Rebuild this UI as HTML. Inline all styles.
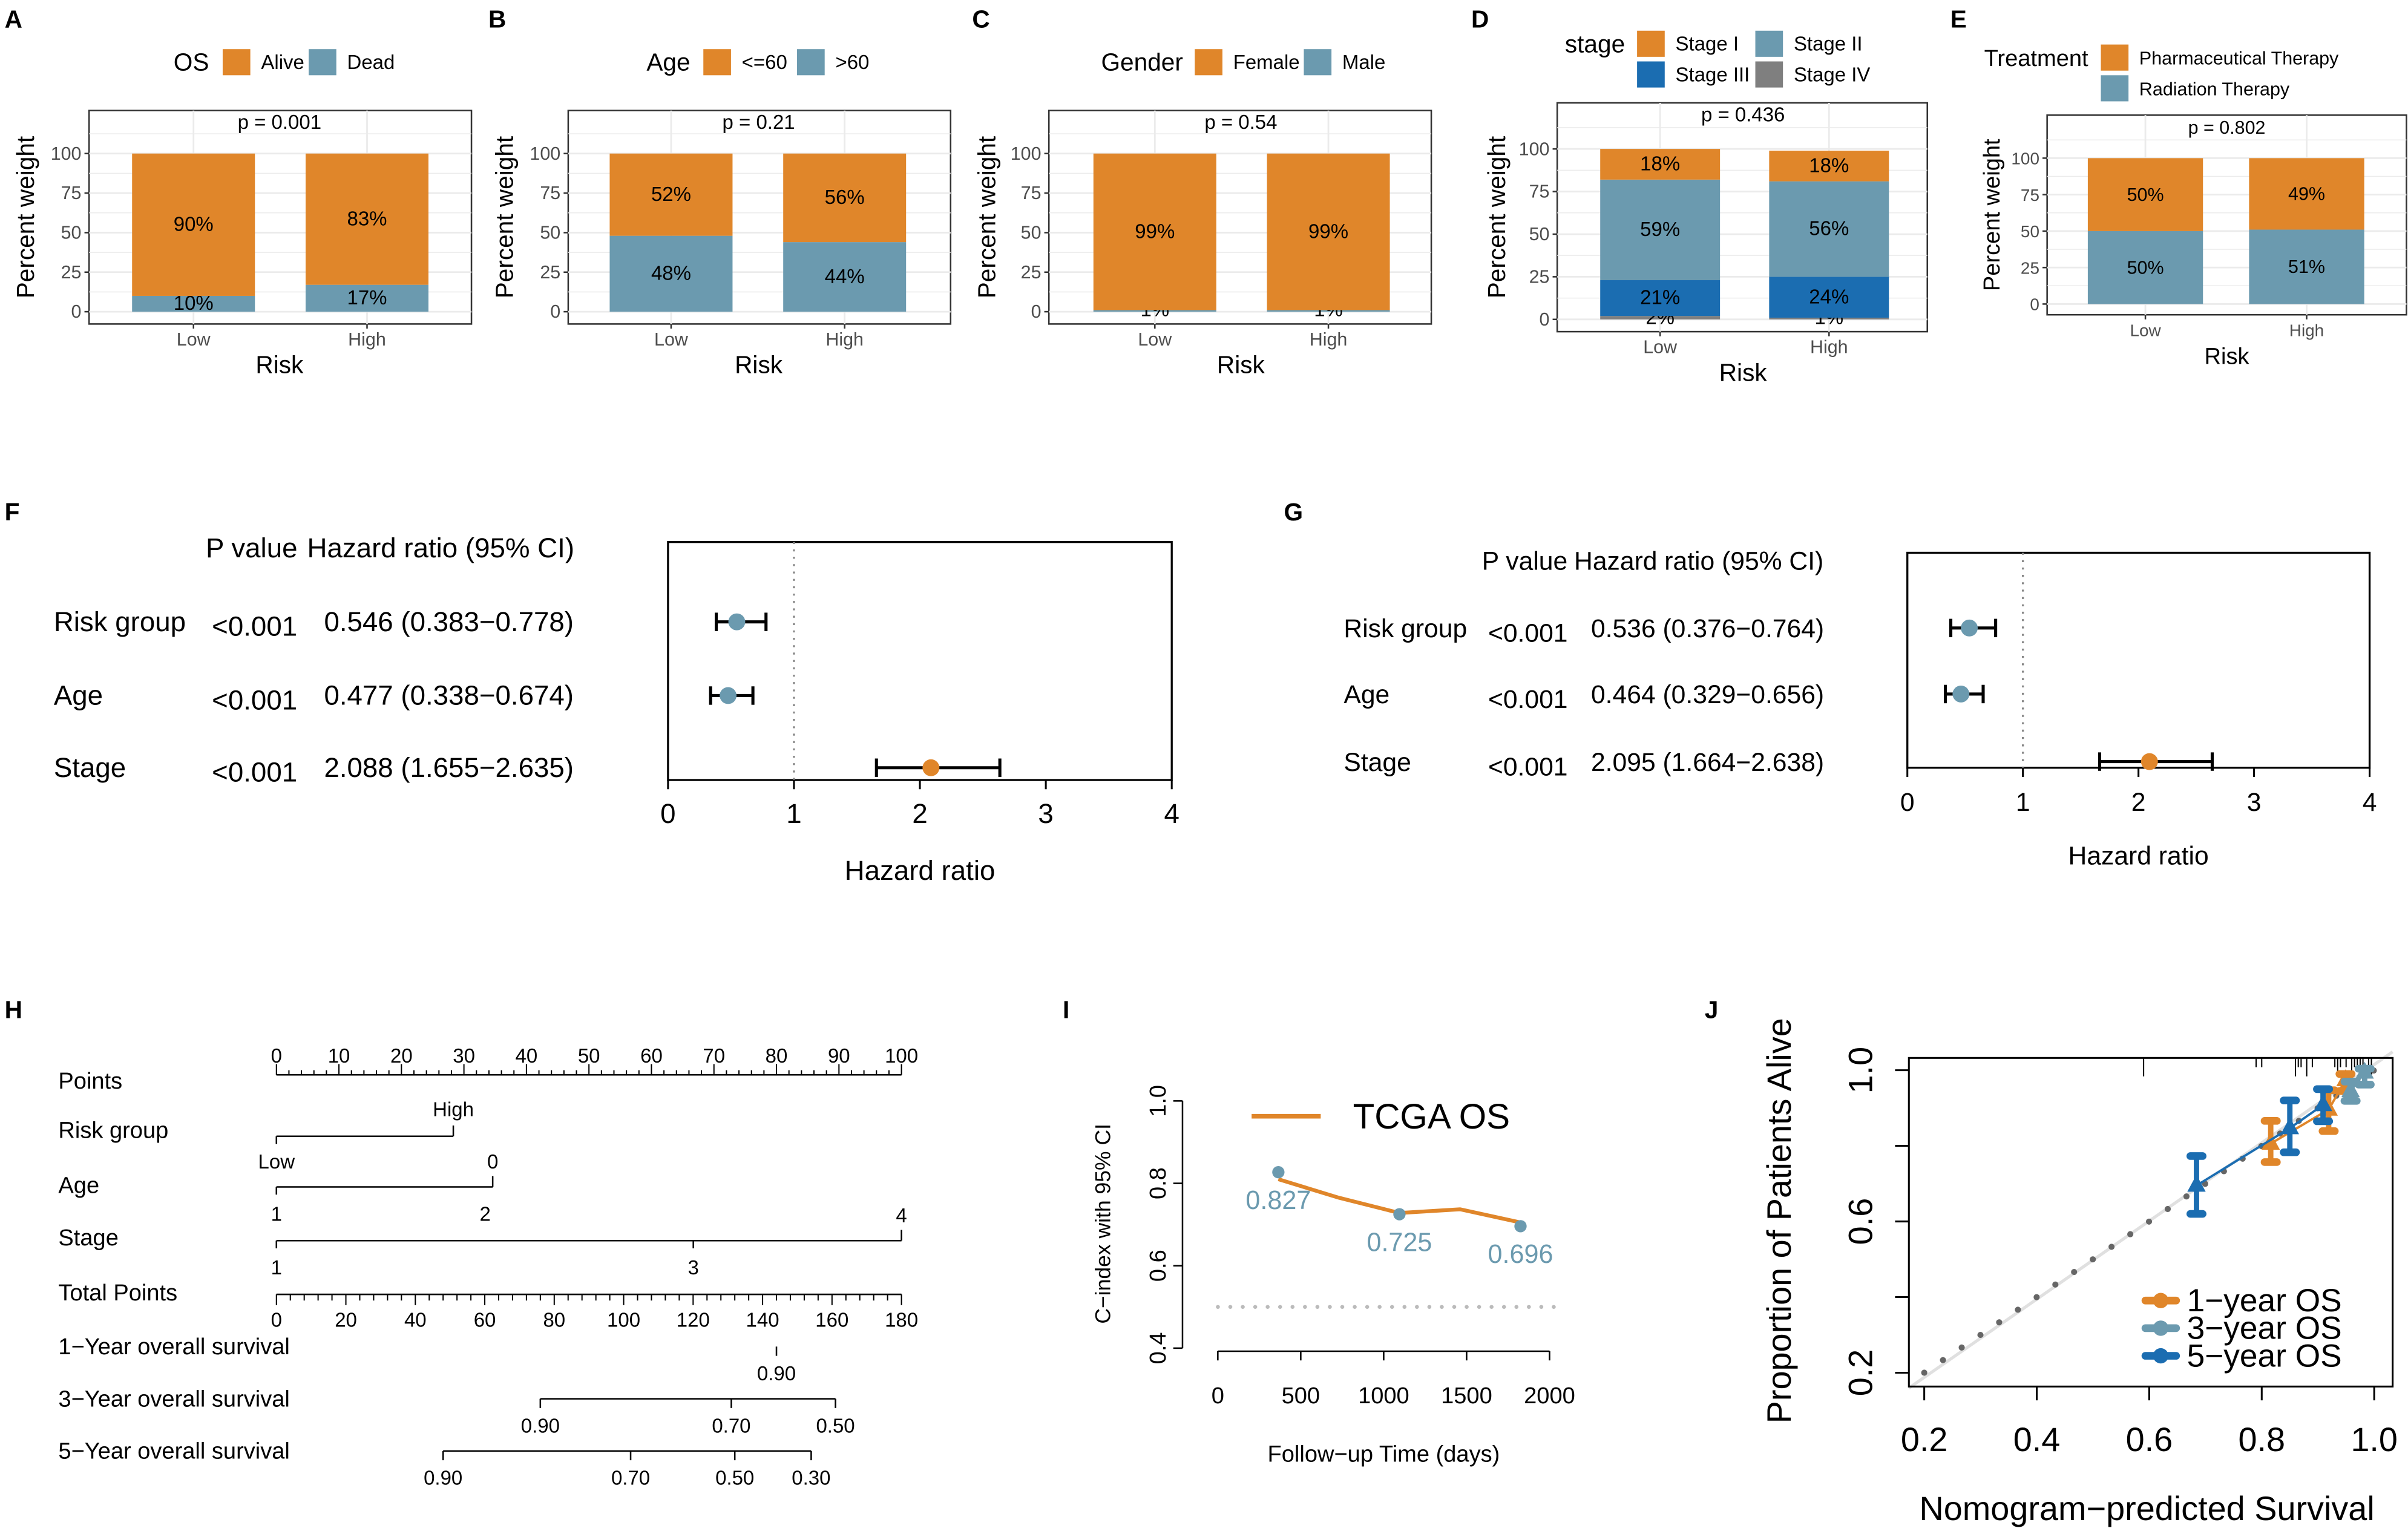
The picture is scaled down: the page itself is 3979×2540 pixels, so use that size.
<!DOCTYPE html>
<html><head><meta charset="utf-8"><style>
html,body{margin:0;padding:0;background:#fff}
svg{display:block;font-family:"Liberation Sans",Arial,sans-serif}
</style></head><body>
<svg id="fig" width="3979" height="2540" viewBox="0 0 1568 1001" preserveAspectRatio="none" xmlns="http://www.w3.org/2000/svg">
<rect x="0" y="0" width="1568" height="1001" fill="#fff"/>
</svg>
<script>
// ---- Data ----
const riskCats = ["Low","High"];
const osAlive = [90,83];
const osDead = [10,17];
const ageLe60 = [52,56];
const ageGt60 = [48,44];
const genderFemale = [99,99];
const genderMale = [1,1];
const stageI = [18,18];
const stageII = [59,56];
const stageIII = [21,24];
const stageIV = [2,1];
const treatPharm = [50,49];
const treatRad = [50,51];
const pctTicks = [0,25,50,75,100];

const forestVars = ["Risk group","Age","Stage"];
const forestPF = ["<0.001","<0.001","<0.001"];
const forestHRF = [0.546,0.477,2.088];
const forestLoF = [0.383,0.338,1.655];
const forestHiF = [0.778,0.674,2.635];
const forestPG = ["<0.001","<0.001","<0.001"];
const forestHRG = [0.536,0.464,2.095];
const forestLoG = [0.376,0.329,1.664];
const forestHiG = [0.764,0.656,2.638];
const hrTicks = [0,1,2,3,4];

const pointsTicks = [0,10,20,30,40,50,60,70,80,90,100];
const totalTicks = [0,20,40,60,80,100,120,140,160,180];
const riskPts = [0,28.3];
const agePts = [34.6,0];
const stagePts = [0,66.7,100];
const surv1Total = [144];
const surv1Lab = ["0.90"];
const surv3Total = [76,131,161];
const surv3Lab = ["0.90","0.70","0.50"];
const surv5Total = [48,102,132,154];
const surv5Lab = ["0.90","0.70","0.50","0.30"];

const cTimes = [365,730,1095,1460,1825];
const cVals = [0.81,0.765,0.728,0.737,0.705];
const cPtTimes = [365,1095,1825];
const cPtVals = [0.827,0.725,0.696];
const cxTicks = [0,500,1000,1500,2000];
const cyTicks = [0.4,0.6,0.8,1.0];

const calTicks = [0.2,0.4,0.6,0.8,1.0];
const cal1x = [0.816,0.919,0.949];
const cal1y = [0.806,0.896,0.974];
const cal1lo = [0.757,0.839,0.945];
const cal1hi = [0.866,0.947,0.99];
const cal3x = [0.958,0.983];
const cal3y = [0.945,0.994];
const cal3lo = [0.919,0.962];
const cal3hi = [0.97,1.004];
const cal5x = [0.684,0.850,0.909];
const cal5y = [0.695,0.847,0.908];
const cal5lo = [0.62,0.783,0.865];
const cal5hi = [0.773,0.92,0.95];
const rugVals = [0.59,0.79,0.80,0.86,0.865,0.87,0.88,0.89,0.93,0.935,0.94,0.95,0.96,0.965,0.97,0.975,0.98,0.99,0.995];

const OR="#E0862A", BL="#6B9AAF", DB="#1B6DB1", GR="#7F7F7F";
const NS="http://www.w3.org/2000/svg";
const svg=document.getElementById('fig');
function mk(tag,attrs,parent){const e=document.createElementNS(NS,tag);for(const k in attrs)e.setAttribute(k,attrs[k]);(parent||svg).appendChild(e);return e;}
function tx(x,y,s,size,anchor,fill,parent,extra){const e=mk('text',Object.assign({x:x,y:y,'font-size':size,'text-anchor':anchor||'start',fill:fill||'#000'},extra||{}),parent);e.textContent=s;return e;}
function grp(name){const g=mk('g',{});return g;}

const letters=[["A",3,18],["B",318,18],["C",633,18],["D",958,18],["E",1270,18],["F",3,339],["G",836,339],["H",3,663],["I",692,663],["J",1110,663]];
letters.forEach(l=>{const t=tx(l[1],l[2],l[0],16,'start','#000',null,{'font-weight':'bold'});});

function barPanel(cfg){
  const g=grp(cfg.name);
  const yv=v=>cfg.y0+(cfg.y100-cfg.y0)*v/100;
  const f=mk('rect',{x:cfg.bx0,y:cfg.by0,width:cfg.bx1-cfg.bx0,height:cfg.by1-cfg.by0,fill:'#fff',stroke:'#333','stroke-width':1},g);
  
  for(let v=0;v<=100;v+=12.5){const y=yv(v);mk('line',{x1:cfg.bx0,x2:cfg.bx1,y1:y,y2:y,stroke:'#ebebeb','stroke-width':v%25===0?1.1:0.6},g);}
  const ytop=yv(112.5);mk('line',{x1:cfg.bx0,x2:cfg.bx1,y1:ytop,y2:ytop,stroke:'#ebebeb','stroke-width':0.6},g);
  cfg.cx.forEach(x=>mk('line',{x1:x,x2:x,y1:cfg.by0,y2:cfg.by1,stroke:'#ebebeb','stroke-width':1.1},g));
  cfg.cx.forEach((cx,i)=>{
    let acc=0;
    cfg.series.forEach((s,k)=>{
      const v=s.vals[i];
      const r=mk('rect',{x:cx-cfg.bw/2,y:yv(acc+v),width:cfg.bw,height:Math.max(0,yv(acc)-yv(acc+v)),fill:s.color},g);
      
      
      let ly=(yv(acc)+yv(acc+v))/2+4;
      if(v<5) ly=yv(acc)+ (k===0?3:-1);
      const t=tx(cx,ly,v+'%',cfg.fs,'middle','#000',g);
      
      acc+=v;
    });
  });
  pctTicks.forEach(v=>{const y=yv(v);mk('line',{x1:cfg.bx0-3,x2:cfg.bx0,y1:y,y2:y,stroke:'#333'},g);
    const t=tx(cfg.bx0-5,y+4,String(v),cfg.fs-1,'end','#4d4d4d',g);});
  cfg.cx.forEach((x,i)=>{mk('line',{x1:x,x2:x,y1:cfg.by1,y2:cfg.by1+3,stroke:'#333'},g);
    const t=tx(x,cfg.by1+14,riskCats[i],cfg.fs-1,'middle','#4d4d4d',g);});
  let t=tx(cfg.titleX,cfg.by1+32,'Risk',cfg.fs+3,'middle','#000',g);
  t=tx(0,0,'Percent weight',cfg.fs+3,'middle','#000',g,{transform:`translate(${cfg.ylx},${(cfg.by0+cfg.by1)/2}) rotate(-90)`});
  t=tx(cfg.pX,cfg.by0+12,cfg.p,cfg.fs,'middle','#000',g);
  const lg=mk('g',{},g);
  t=tx(cfg.leg.tx,cfg.leg.ty,cfg.leg.title,cfg.fs+3,'start','#000',lg);
  cfg.leg.items.forEach(it=>{
    const r=mk('rect',{x:it[0],y:it[1],width:18,height:17,fill:it[2]},lg);
    const tt=tx(it[0]+25,it[1]+13,it[3],cfg.fs,'start','#000',lg);
  });
}
barPanel({name:'panel-a-os',bx0:58,bx1:307,by0:72,by1:211,y0:203,y100:100,cx:[126,239],bw:80,fs:13,titleX:182,ylx:22,p:'p = 0.001',pX:182,
  series:[{key:'dead',vals:osDead,color:BL},{key:'alive',vals:osAlive,color:OR}],
  leg:{tx:113,ty:46,title:'OS',items:[[145,32,OR,'Alive'],[201,32,BL,'Dead']]}});
barPanel({name:'panel-b-age',bx0:370,bx1:619,by0:72,by1:211,y0:203,y100:100,cx:[437,550],bw:80,fs:13,titleX:494,ylx:334,p:'p = 0.21',pX:494,
  series:[{key:'gt60',vals:ageGt60,color:BL},{key:'le60',vals:ageLe60,color:OR}],
  leg:{tx:421,ty:46,title:'Age',items:[[458,32,OR,'<=60'],[519,32,BL,'>60']]}});
barPanel({name:'panel-c-gender',bx0:683,bx1:932,by0:72,by1:211,y0:203,y100:100,cx:[752,865],bw:80,fs:13,titleX:808,ylx:648,p:'p = 0.54',pX:808,
  series:[{key:'male',vals:genderMale,color:BL},{key:'female',vals:genderFemale,color:OR}],
  leg:{tx:717,ty:46,title:'Gender',items:[[778,32,OR,'Female'],[849,32,BL,'Male']]}});
barPanel({name:'panel-d-stage',bx0:1014,bx1:1255,by0:67,by1:216,y0:208,y100:97,cx:[1081,1191],bw:78,fs:13,titleX:1135,ylx:980,p:'p = 0.436',pX:1135,
  series:[{key:'stage-iv',vals:stageIV,color:GR},{key:'stage-iii',vals:stageIII,color:DB},{key:'stage-ii',vals:stageII,color:BL},{key:'stage-i',vals:stageI,color:OR}],
  leg:{tx:1019,ty:34,title:'stage',items:[[1066,20,OR,'Stage I'],[1143,20,BL,'Stage II'],[1066,40,DB,'Stage III'],[1143,40,GR,'Stage IV']]}});
barPanel({name:'panel-e-treatment',bx0:1333,bx1:1567,by0:75,by1:205,y0:198,y100:103,cx:[1397,1502],bw:75,fs:12,titleX:1450,ylx:1302,p:'p = 0.802',pX:1450,
  series:[{key:'radiation',vals:treatRad,color:BL},{key:'pharmaceutical',vals:treatPharm,color:OR}],
  leg:{tx:1292,ty:43,title:'Treatment',items:[[1368,29,OR,'Pharmaceutical Therapy'],[1368,49,BL,'Radiation Therapy']]}});

function forest(cfg){
  const g=grp(cfg.name);
  const xs=v=>cfg.x0+(cfg.x4-cfg.x0)*v/4;
  let t=tx(cfg.pX-4,cfg.headY,'P value',cfg.fs,'start','#000',g);
  t=tx(cfg.hrX-11,cfg.headY,'Hazard ratio (95% CI)',cfg.fs,'start','#000',g);
  const f=mk('rect',{x:cfg.x0,y:cfg.by0,width:cfg.x4-cfg.x0,height:cfg.by1-cfg.by0,fill:'none',stroke:'#000','stroke-width':1.3},g);
  
  mk('line',{x1:xs(1),x2:xs(1),y1:cfg.by0,y2:cfg.by1,stroke:'#888','stroke-width':1.3,'stroke-dasharray':'1.3 3.5'},g);
  forestVars.forEach((nm,i)=>{
    const y=cfg.rows[i];
    let a=tx(cfg.labX,y+6,nm,cfg.fs,'start','#000',g);
    a=tx(cfg.pX,y+9,cfg.p[i],cfg.fs,'start','#000',g);
    a=tx(cfg.hrX,y+6,cfg.hr[i].toFixed(3)+' ('+cfg.lo[i].toFixed(3)+'\u2212'+cfg.hi[i].toFixed(3)+')',cfg.fs,'start','#000',g);
    const c=cfg.hr[i]>1?OR:BL;
    const eb=mk('g',{},g);
    mk('line',{x1:xs(cfg.lo[i]),x2:xs(cfg.hi[i]),y1:y,y2:y,stroke:'#000','stroke-width':2},eb);
    mk('line',{x1:xs(cfg.lo[i]),x2:xs(cfg.lo[i]),y1:y-6,y2:y+6,stroke:'#000','stroke-width':2},eb);
    mk('line',{x1:xs(cfg.hi[i]),x2:xs(cfg.hi[i]),y1:y-6,y2:y+6,stroke:'#000','stroke-width':2},eb);
    mk('circle',{cx:xs(cfg.hr[i]),cy:y,r:5.5,fill:c},eb);
  });
  hrTicks.forEach(v=>{mk('line',{x1:xs(v),x2:xs(v),y1:cfg.by1,y2:cfg.by1+6,stroke:'#000','stroke-width':1.2},g);
    const a=tx(xs(v),cfg.by1+28,String(v),cfg.fs,'middle','#000',g);});
  t=tx((cfg.x0+cfg.x4)/2,cfg.titleY,'Hazard ratio',cfg.fs,'middle','#000',g);
}
forest({name:'panel-f-forest',x0:435,x4:763,by0:353,by1:508,rows:[405,453,500],labX:35,pX:138,hrX:211,headY:363,titleY:573,fs:18,p:forestPF,hr:forestHRF,lo:forestLoF,hi:forestHiF});
forest({name:'panel-g-forest',x0:1242,x4:1543,by0:360,by1:500,rows:[409,452,496],labX:875,pX:969,hrX:1036,headY:371,titleY:563,fs:16.8,p:forestPG,hr:forestHRG,lo:forestLoG,hi:forestHiG});

(function(){
  const g=grp('panel-h-nomogram');
  const px=v=>180+(587-180)*v/100;
  const tpx=v=>180+(587-180)*v/180;
  const fs=15;
  const rows=[['Points',709],['Risk group',741],['Age',777],['Stage',811],['Total Points',847],['1\u2212Year overall survival',882],['3\u2212Year overall survival',916],['5\u2212Year overall survival',950]];
  rows.forEach(r=>{const a=tx(38,r[1],r[0],fs,'start','#000',g);});
  mk('line',{x1:px(0),x2:px(100),y1:700,y2:700,stroke:'#000'},g);
  for(let v=0;v<=100;v+=2){mk('line',{x1:px(v),x2:px(v),y1:700,y2:v%10===0?693:697,stroke:'#000','stroke-width':0.8},g);}
  pointsTicks.forEach(v=>{const a=tx(px(v),692,String(v),13,'middle','#000',g);});
  mk('line',{x1:px(riskPts[0]),x2:px(riskPts[1]),y1:740,y2:740,stroke:'#000'},g);
  mk('line',{x1:px(riskPts[1]),x2:px(riskPts[1]),y1:733,y2:740,stroke:'#000'},g);
  mk('line',{x1:px(riskPts[0]),x2:px(riskPts[0]),y1:740,y2:745,stroke:'#000'},g);
  tx(px(riskPts[1]),727,'High',13,'middle','#000',g);tx(px(riskPts[0]),761,'Low',13,'middle','#000',g);
  mk('line',{x1:px(0),x2:px(agePts[0]),y1:773,y2:773,stroke:'#000'},g);
  mk('line',{x1:px(agePts[0]),x2:px(agePts[0]),y1:766,y2:773,stroke:'#000'},g);
  mk('line',{x1:px(0),x2:px(0),y1:773,y2:778,stroke:'#000'},g);
  tx(px(agePts[0]),761,'0',13,'middle','#000',g);tx(px(0),795,'1',13,'middle','#000',g);tx(px(33.4),795,'2',13,'middle','#000',g);
  mk('line',{x1:px(0),x2:px(100),y1:808,y2:808,stroke:'#000'},g);
  mk('line',{x1:px(100),x2:px(100),y1:801,y2:808,stroke:'#000'},g);
  mk('line',{x1:px(0),x2:px(0),y1:808,y2:813,stroke:'#000'},g);
  mk('line',{x1:px(stagePts[1]),x2:px(stagePts[1]),y1:808,y2:813,stroke:'#000'},g);
  tx(px(100),796,'4',13,'middle','#000',g);tx(px(0),830,'1',13,'middle','#000',g);tx(px(stagePts[1]),830,'3',13,'middle','#000',g);
  mk('line',{x1:tpx(0),x2:tpx(180),y1:843,y2:843,stroke:'#000'},g);
  for(let v=0;v<=180;v+=4){mk('line',{x1:tpx(v),x2:tpx(v),y1:843,y2:v%20===0?850:847,stroke:'#000','stroke-width':0.8},g);}
  totalTicks.forEach(v=>{const a=tx(tpx(v),864,String(v),13,'middle','#000',g);});
  function surv(vals,labs,y){
    if(vals.length>1) mk('line',{x1:tpx(vals[0]),x2:tpx(vals[vals.length-1]),y1:y,y2:y,stroke:'#000'},g);
    vals.forEach((v,i)=>{mk('line',{x1:tpx(v),x2:tpx(v),y1:y,y2:y+6,stroke:'#000'},g);
      const a=tx(tpx(v),y+22,labs[i],13,'middle','#000',g);});
  }
  surv(surv1Total,surv1Lab,877);surv(surv3Total,surv3Lab,911);surv(surv5Total,surv5Lab,945);
})();

(function(){
  const g=grp('panel-i-cindex');
  const xs=v=>793+(1009-793)*v/2000;
  const ys=v=>878-(878-717)*(v-0.4)/0.6;
  mk('line',{x1:xs(0),x2:xs(2000),y1:880,y2:880,stroke:'#000'},g);
  cxTicks.forEach(v=>{mk('line',{x1:xs(v),x2:xs(v),y1:880,y2:886,stroke:'#000'},g);
    const a=tx(xs(v),914,String(v),15,'middle','#000',g);});
  mk('line',{x1:770,x2:770,y1:ys(0.4),y2:ys(1.0),stroke:'#000'},g);
  cyTicks.forEach(v=>{mk('line',{x1:764,x2:770,y1:ys(v),y2:ys(v),stroke:'#000'},g);
    const a=tx(0,0,v.toFixed(1),15,'middle','#000',g,{transform:`translate(759,${ys(v)}) rotate(-90)`});});
  let t=tx(0,0,'C\u2212index with 95% CI',14,'middle','#000',g,{transform:`translate(723,797) rotate(-90)`});
  t=tx(901,952,'Follow\u2212up Time (days)',15,'middle','#000',g);
  mk('line',{x1:793,x2:1015,y1:ys(0.5),y2:ys(0.5),stroke:'#bbb','stroke-width':2.5,'stroke-dasharray':'0.1 8','stroke-linecap':'round'},g);
  const l=mk('polyline',{points:cTimes.map((d,i)=>xs(d)+','+ys(cVals[i])).join(' '),fill:'none',stroke:OR,'stroke-width':2.5},g);
  
  cPtTimes.forEach((d,i)=>{const c=mk('circle',{cx:xs(d),cy:ys(cPtVals[i]),r:4,fill:BL},g);
    const a=tx(xs(d),ys(cPtVals[i])+24,cPtVals[i].toFixed(3),17,'middle',BL,g);});
  const lg=mk('g',{},g);
  mk('line',{x1:815,x2:860,y1:727,y2:727,stroke:OR,'stroke-width':3},lg);
  tx(881,735,'TCGA OS',23,'start','#000',lg);
})();

(function(){
  const g=grp('panel-j-calibration');
  const xs=v=>1253+(1546-1253)*(v-0.2)/0.8;
  const ys=v=>894-(894-697)*(v-0.2)/0.8;
  mk('line',{x1:xs(0.2)-10,y1:ys(0.2)+10,x2:1558,y2:ys(1)-12,stroke:'#e0e0e0','stroke-width':2},g);
  for(let v=0.2;v<=1.02;v+=0.0333){mk('circle',{cx:xs(v),cy:ys(v),r:2,fill:'#666'},g);}
  const f=mk('rect',{x:1243,y:689,width:315,height:214,fill:'none',stroke:'#000','stroke-width':1.2},g);
  rugVals.forEach((v,i)=>mk('line',{x1:xs(v),x2:xs(v),y1:689,y2:689+(i%3===0?12:6),stroke:'#000','stroke-width':0.8},g));
  calTicks.forEach(v=>{mk('line',{x1:xs(v),x2:xs(v),y1:903,y2:912,stroke:'#000','stroke-width':1.2},g);
    const a=tx(xs(v),945,v.toFixed(1),22,'middle','#000',g);});
  [0.2,0.6,1.0].forEach(v=>{const a=tx(0,0,v.toFixed(1),22,'middle','#000',g,{transform:`translate(1219,${ys(v)}) rotate(-90)`});});
  [0.2,0.4,0.6,0.8,1.0].forEach(v=>mk('line',{x1:1234,x2:1243,y1:ys(v),y2:ys(v),stroke:'#000','stroke-width':1.2},g));
  let t=tx(0,0,'Proportion of Patients Alive',22,'middle','#000',g,{transform:`translate(1166,795) rotate(-90)`});
  t=tx(1398,990,'Nomogram\u2212predicted Survival',22,'middle','#000',g);
  function series(X,Y,LO,HI,c,name){
    const s=mk('g',{},g);
    mk('polyline',{points:X.map((x,i)=>xs(x)+','+ys(Y[i])).join(' '),fill:'none',stroke:c,'stroke-width':1.5},s);
    X.forEach((x,i)=>{
      mk('line',{x1:xs(x),x2:xs(x),y1:ys(LO[i]),y2:ys(HI[i]),stroke:c,'stroke-width':3.5},s);
      mk('line',{x1:xs(x)-4,x2:xs(x)+4,y1:ys(LO[i]),y2:ys(LO[i]),stroke:c,'stroke-width':5,'stroke-linecap':'round'},s);
      mk('line',{x1:xs(x)-4,x2:xs(x)+4,y1:ys(HI[i]),y2:ys(HI[i]),stroke:c,'stroke-width':5,'stroke-linecap':'round'},s);
      const px=xs(x),py=ys(Y[i]);
      mk('polygon',{points:`${px},${py-7} ${px-6},${py+4} ${px+6},${py+4}`,fill:c},s);
    });
  }
  series(cal1x,cal1y,cal1lo,cal1hi,OR,'series-1-year');
  series(cal3x,cal3y,cal3lo,cal3hi,BL,'series-3-year');
  series(cal5x,cal5y,cal5lo,cal5hi,DB,'series-5-year');
  const lg=mk('g',{},g);
  [[OR,'1\u2212year OS',854],[BL,'3\u2212year OS',872],[DB,'5\u2212year OS',890]].forEach(e=>{
    mk('line',{x1:1397,x2:1417,y1:e[2]-7,y2:e[2]-7,stroke:e[0],'stroke-width':5,'stroke-linecap':'round'},lg);
    mk('circle',{cx:1407,cy:e[2]-7,r:5,fill:e[0]},lg);
    const a=tx(1424,e[2],e[1],21,'start','#000',lg);
  });
})();
</script>
</body></html>
